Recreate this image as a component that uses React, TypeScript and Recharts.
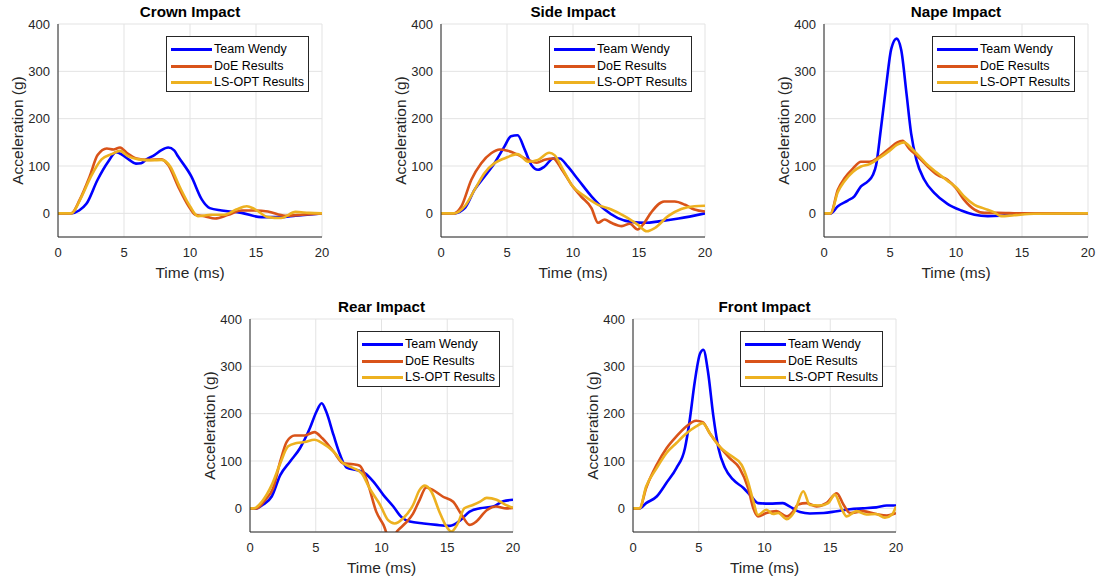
import { CartesianGrid, Legend, Line, LineChart, XAxis, YAxis } from 'recharts';

type Pair = [number, number];

const seriesNames = ['Team Wendy', 'DoE Results', 'LS-OPT Results'];
const seriesColors = ['#0000ff', '#d95319', '#edb120'];
const timeTicks = [0, 5, 10, 15, 20];
const accelTicks = [0, 100, 200, 300, 400];

// time (ms), acceleration (g)
const crownWendy: Pair[] = [[0, 0], [1, 0], [1.6, 6], [2.15, 20], [3, 71], [3.8, 109], [4.4, 129], [4.9, 123], [5.4, 113], [5.9, 105], [6.3, 106], [6.7, 114], [7.3, 123], [7.8, 133], [8.35, 139], [8.8, 133], [9.1, 120], [10.1, 78], [10.9, 29], [11.5, 11], [12.4, 6], [13.9, 1], [15.4, -8], [16.9, -8], [18, -5], [20, 0]];
const crownDoe: Pair[] = [[0, 0], [1, 0], [1.65, 29], [2.4, 78], [3, 123], [3.7, 137], [4.2, 135], [4.7, 139], [5.2, 128], [5.95, 116], [6.8, 113], [7.85, 114], [8.35, 102], [9.1, 57], [9.9, 15], [10.4, -3], [11.1, -6], [11.9, -11], [12.9, -3], [13.9, 6], [14.9, 6], [15.9, 4], [17.2, -5], [18.5, -3], [20, 0]];
const crownLs: Pair[] = [[0, 0], [1, 0], [1.8, 36], [2.5, 78], [3.3, 114], [4.05, 125], [4.7, 132], [5.3, 121], [6.1, 114], [7.1, 112], [7.85, 113], [8.5, 99], [9.2, 57], [10, 15], [10.6, -6], [11.6, -3], [12.6, -3], [13.5, 8], [14.3, 15], [14.9, 9], [15.9, -8], [16.9, -10], [18, 3], [19, 1], [20, 0]];

const sideWendy: Pair[] = [[0, 0], [1, 0], [1.8, 11], [2.55, 50], [3.3, 78], [4.05, 106], [4.8, 141], [5.3, 163], [5.8, 165], [6.35, 134], [6.85, 102], [7.35, 92], [7.85, 99], [8.5, 116], [9, 116], [9.6, 99], [10.4, 71], [11.4, 36], [12.4, 8], [13.4, -10], [14.4, -18], [15.5, -20], [16.5, -17], [18, -11], [20, 0]];
const sideDoe: Pair[] = [[0, 0], [1, 0], [1.55, 15], [2.3, 71], [3.05, 106], [3.8, 127], [4.45, 135], [5.05, 132], [5.8, 124], [6.6, 113], [7.25, 107], [7.85, 113], [8.5, 116], [9.1, 95], [9.9, 60], [10.6, 36], [11.4, 11], [11.9, -20], [12.4, -13], [12.9, -20], [13.7, -27], [14.3, -22], [14.9, -34], [15.3, -24], [15.9, 1], [16.9, 25], [17.7, 25], [18.5, 18], [19.2, 8], [20, 4]];
const sideLs: Pair[] = [[0, 0], [1, 0], [1.8, 15], [2.55, 50], [3.3, 85], [4.05, 106], [4.8, 116], [5.8, 125], [6.6, 109], [7.35, 113], [8.2, 128], [8.6, 123], [9.25, 92], [9.9, 60], [10.9, 36], [11.9, 18], [12.9, 8], [13.9, -6], [14.9, -24], [15.6, -38], [16.2, -31], [17.2, -6], [18.2, 9], [19.2, 15], [20, 16]];

const napeWendy: Pair[] = [[0, 0], [0.5, 0], [1.05, 15], [1.8, 27], [2.3, 36], [2.8, 57], [3.3, 67], [3.7, 81], [3.95, 102], [4.3, 176], [4.7, 267], [5.1, 348], [5.5, 369], [5.85, 345], [6.25, 253], [6.6, 169], [7, 113], [7.6, 71], [8.35, 43], [9.35, 20], [10.4, 6], [11.4, -3], [12.4, -6], [13.4, -5], [14.9, -1], [20, 0]];
const napeDoe: Pair[] = [[0, 0], [0.5, 0], [1.05, 50], [1.55, 74], [2.2, 95], [2.8, 109], [3.45, 109], [4.2, 120], [4.95, 137], [5.55, 150], [5.95, 153], [6.45, 137], [7.1, 120], [7.85, 99], [8.6, 81], [9.35, 71], [10, 53], [10.6, 29], [11.4, 8], [12.15, 1], [13.15, 1], [14.9, 0], [20, 0]];
const napeLs: Pair[] = [[0, 0], [0.5, 0], [1.05, 45], [1.55, 68], [2.2, 88], [2.8, 99], [3.45, 104], [4.2, 117], [4.95, 132], [5.55, 145], [6.05, 150], [6.6, 138], [7.1, 124], [7.85, 102], [8.6, 85], [9.35, 69], [10, 55], [10.6, 36], [11.4, 18], [12.15, 10], [12.9, 2], [13.4, -6], [14.4, -4], [15.9, -1], [20, 0]];

const rearWendy: Pair[] = [[0, 0], [0.5, 0], [1, 8], [1.65, 25], [2.3, 70], [3.05, 99], [3.8, 127], [4.55, 169], [5.05, 204], [5.45, 222], [5.8, 204], [6.35, 155], [6.85, 113], [7.35, 86], [8.1, 81], [8.75, 74], [9.4, 56], [10.15, 28], [10.9, 4], [11.5, -18], [12.15, -28], [13.2, -32], [14.2, -35], [15.2, -37], [16, -25], [16.7, -7], [17.5, 0], [18.5, 4], [19.25, 15], [20, 18]];
const rearDoe: Pair[] = [[0, 0], [0.5, 0], [1.15, 18], [1.75, 42], [2.3, 99], [2.8, 141], [3.4, 154], [4.15, 154], [4.9, 161], [5.5, 148], [6.35, 120], [7.1, 95], [7.85, 93], [8.35, 90], [9, 49], [9.6, -7], [10.15, -35], [10.7, -70], [11.2, -48], [11.8, -32], [12.4, -11], [12.9, 18], [13.4, 44], [13.9, 39], [14.65, 25], [15.45, 14], [16.1, -14], [16.7, -35], [17.2, -28], [18, -4], [18.7, 4], [19.5, 0], [20, 1]];
const rearLs: Pair[] = [[0, 0], [0.3, 0], [0.9, 14], [1.65, 49], [2.3, 95], [2.9, 131], [3.55, 138], [4.15, 140], [4.9, 145], [5.5, 138], [6.35, 120], [7.1, 95], [7.85, 85], [8.5, 74], [9.1, 42], [9.9, 7], [10.5, -25], [11, -32], [11.65, -21], [12.4, 7], [12.9, 39], [13.3, 48], [13.8, 35], [14.4, -7], [14.95, -39], [15.3, -49], [15.8, -32], [16.3, 0], [16.95, 7], [17.5, 14], [18, 22], [18.75, 18], [19.4, 8], [20, 1]];

const frontWendy: Pair[] = [[0, 0], [0.5, 0], [1, 11], [1.8, 25], [2.55, 54], [3.3, 85], [3.95, 127], [4.3, 184], [4.7, 268], [5.1, 327], [5.35, 335], [5.7, 289], [6.1, 197], [6.5, 127], [7, 85], [7.6, 61], [8.4, 43], [9, 25], [9.5, 11], [10.4, 10], [11.4, 11], [11.9, 4], [12.7, -8], [13.45, -11], [14.5, -10], [15.5, -6], [16.5, -2], [17.5, 0], [18.5, 2], [19.3, 6], [20, 6]];
const frontDoe: Pair[] = [[0, 0], [0.5, 0], [1, 43], [1.8, 92], [2.55, 127], [3.3, 152], [4.05, 173], [4.8, 185], [5.3, 182], [5.85, 158], [6.6, 130], [7.35, 106], [8.1, 85], [8.75, 43], [9.15, 0], [9.5, -17], [10.15, -10], [10.9, -6], [11.7, -17], [12.2, -6], [12.55, 8], [13.2, 11], [13.95, 4], [14.7, 11], [15.5, 32], [16, 8], [16.5, -10], [17.5, -6], [18.5, -12], [19.3, -15], [20, -10]];
const frontLs: Pair[] = [[0, 0], [0.5, 0], [1, 46], [1.8, 85], [2.55, 117], [3.3, 138], [4.05, 158], [4.8, 173], [5.3, 180], [5.85, 158], [6.6, 130], [7.35, 113], [8.25, 92], [8.75, 56], [9.15, 15], [9.5, -14], [10.15, -3], [10.65, -12], [11.05, -10], [11.7, -23], [12.3, -6], [12.95, 36], [13.45, 7], [14.2, 6], [14.85, 11], [15.35, 29], [15.85, 0], [16.25, -17], [17, -6], [17.75, -13], [18.5, -12], [19.15, -20], [19.7, -13], [20, 4]];

const FONT = '"Liberation Sans", Arial, Helvetica, sans-serif';
const INK = '#262626';

type PanelProps = {
  title: string;
  series: Pair[][];
  plotX: number;
  plotY: number;
  plotW: number;
  plotH: number;
};

const LEFT = 60;
const TOP = 25;
const RIGHT = 12;
const BOTTOM = 48;

function LegendBox() {
  return (
    <div
      style={{
        width: 143,
        height: 56,
        boxSizing: 'border-box',
        border: `1px solid ${INK}`,
        background: '#fff',
        paddingTop: 4,
        fontFamily: FONT,
        fontSize: 12.5,
        color: '#000'
      }}
    >
      {seriesNames.map((name, i) => (
        <div key={name} style={{ position: 'relative', height: 16.5, lineHeight: '16.5px' }}>
          <div style={{ position: 'absolute', left: 4, top: 7, width: 41, height: 3, background: seriesColors[i] }} />
          <span style={{ position: 'absolute', left: 47, top: 0, whiteSpace: 'nowrap' }}>{name}</span>
        </div>
      ))}
    </div>
  );
}

function Panel({ title, series, plotX, plotY, plotW, plotH }: PanelProps) {
  const width = plotW + LEFT + RIGHT;
  const height = plotH + TOP + BOTTOM;
  return (
    <div style={{ position: 'absolute', left: plotX - LEFT, top: plotY - TOP, width, height }}>
      <div
        style={{
          position: 'absolute',
          left: LEFT,
          width: plotW,
          top: TOP - 21,
          textAlign: 'center',
          fontFamily: FONT,
          fontWeight: 'bold',
          fontSize: 15.2,
          color: '#000',
          lineHeight: '18px'
        }}
      >
        {title}
      </div>
      <LineChart width={width} height={height} margin={{ top: TOP, right: RIGHT, bottom: 0, left: 0 }}>
        <CartesianGrid stroke="#e3e3e3" strokeWidth={1} />
        <XAxis
          type="number"
          dataKey="t"
          domain={[0, 20]}
          ticks={timeTicks}
          allowDataOverflow
          height={BOTTOM}
          tickLine={false}
          tickMargin={5}
          axisLine={{ stroke: INK }}
          tick={{ fill: INK, fontSize: 13, fontFamily: FONT }}
          label={{
            content: ({ viewBox }: any) => (
              <text
                x={viewBox.x + viewBox.width / 2}
                y={viewBox.y + 35}
                textAnchor="middle"
                dominantBaseline="central"
                fill={INK}
                fontSize={15.5}
                fontFamily={FONT}
              >
                Time (ms)
              </text>
            )
          }}
        />
        <YAxis
          type="number"
          domain={[-50, 400]}
          ticks={accelTicks}
          allowDataOverflow
          width={LEFT}
          tickLine={false}
          axisLine={{ stroke: INK }}
          tick={{ fill: INK, fontSize: 13, fontFamily: FONT }}
          label={{
            content: ({ viewBox }: any) => {
              const cx = viewBox.x + 19;
              const cy = viewBox.y + viewBox.height / 2;
              return (
                <text
                  x={cx}
                  y={cy}
                  transform={`rotate(-90, ${cx}, ${cy})`}
                  textAnchor="middle"
                  dominantBaseline="central"
                  fill={INK}
                  fontSize={15.5}
                  fontFamily={FONT}
                >
                  Acceleration (g)
                </text>
              );
            }
          }}
        />
        <Legend
          layout="horizontal"
          verticalAlign="middle"
          align="center"
          content={() => <LegendBox />}
          wrapperStyle={{ top: TOP + 12, left: LEFT + plotW - 13 - 143, width: 143, height: 56 }}
        />
        {series.map((pts, i) => (
          <Line
            key={seriesNames[i]}
            data={pts.map(([t, g]) => ({ t, g }))}
            dataKey="g"
            name={seriesNames[i]}
            type="monotone"
            stroke={seriesColors[i]}
            strokeWidth={2.6}
            dot={false}
            activeDot={false}
            isAnimationActive={false}
          />
        ))}
      </LineChart>
    </div>
  );
}

export default function App() {
  return (
    <div style={{ position: 'absolute', left: 0, top: 0, width: 1099, height: 581, background: '#fff', overflow: 'hidden' }}>
      <Panel title="Crown Impact" series={[crownWendy, crownDoe, crownLs]} plotX={58} plotY={24} plotW={264} plotH={213} />
      <Panel title="Side Impact" series={[sideWendy, sideDoe, sideLs]} plotX={441} plotY={24} plotW={264} plotH={213} />
      <Panel title="Nape Impact" series={[napeWendy, napeDoe, napeLs]} plotX={824} plotY={24} plotW={264} plotH={213} />
      <Panel title="Rear Impact" series={[rearWendy, rearDoe, rearLs]} plotX={250} plotY={319} plotW={263} plotH={213} />
      <Panel title="Front Impact" series={[frontWendy, frontDoe, frontLs]} plotX={633} plotY={319} plotW={263} plotH={213} />
    </div>
  );
}
